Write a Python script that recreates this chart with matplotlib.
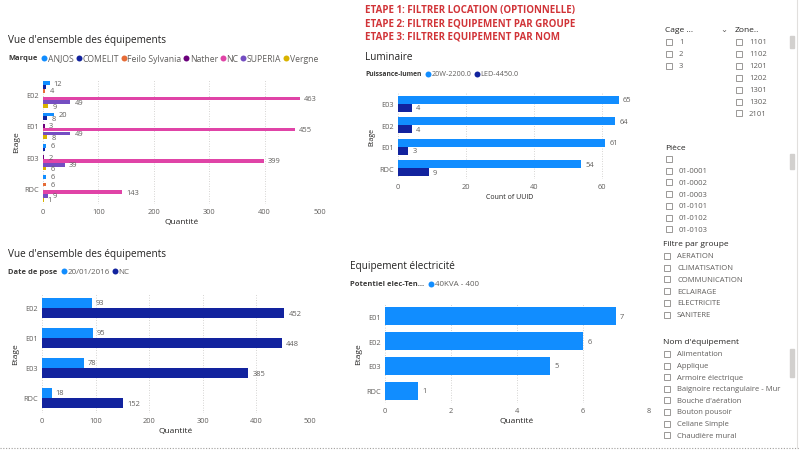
import numpy as np
import matplotlib
matplotlib.use("Agg")
import matplotlib.pyplot as plt
from matplotlib.lines import Line2D
from matplotlib.patches import Rectangle

plt.rcParams['font.family'] = ['Open Sans', 'DejaVu Sans']

# ---- data ----
marques = ['ANJOS', 'COMELIT', 'Feilo Sylvania', 'Nather', 'NC', 'SUPERIA', 'Vergne']
etages_1 = ['E02', 'E01', 'E03', 'RDC']
marque_vals = [
    [12, 20, 6, 6],      # ANJOS
    [6, 8, 4, 0],        # COMELIT
    [4, 0, 0, 6],        # Feilo Sylvania
    [0, 3, 2, 0],        # Nather
    [463, 455, 399, 143],  # NC
    [49, 49, 39, 9],     # SUPERIA
    [9, 8, 6, 1],        # Vergne
]

lum_series = ['20W-2200.0', 'LED-4450.0']
etages_lum = ['E03', 'E02', 'E01', 'RDC']
lum_vals = [[65, 64, 61, 54], [4, 4, 3, 9]]

pose_series = ['20/01/2016', 'NC']
etages_pose = ['E02', 'E01', 'E03', 'RDC']
pose_vals = [[93, 95, 78, 18], [452, 448, 385, 152]]

elec_series = ['40KVA - 400']
etages_elec = ['E01', 'E02', 'E03', 'RDC']
elec_vals = [[7, 6, 5, 1]]

etapes = ['ETAPE 1: FILTRER LOCATION (OPTIONNELLE)',
          'ETAPE 2: FILTRER EQUIPEMENT PAR GROUPE',
          'ETAPE 3: FILTRER EQUIPEMENT PAR NOM']
cage_items = ['1', '2', '3']
zone_items = ['1101', '1102', '1201', '1202', '1301', '1302', '2101']
piece_items = ['', '01-0001', '01-0002', '01-0003', '01-0101', '01-0102', '01-0103']
groupe_items = ['AERATION', 'CLIMATISATION', 'COMMUNICATION', 'ECLAIRAGE', 'ELECTRICITE', 'SANITERE']
nom_items = ['Alimentation', 'Applique', 'Armoire électrique', 'Baignoire rectangulaire - Mur',
             "Bouche d'aération", 'Bouton pousoir', 'Celiane Simple', 'Chaudière mural']

PBI = ['#118DFF', '#12239E', '#E66C37', '#6B007B', '#E044A7', '#744EC2', '#D9B300']
GREY = '#605E5C'
DARK = '#252423'

W, H = 800, 452
fig = plt.figure(figsize=(8, 4.52), dpi=100)
fig.patch.set_facecolor('white')
renderer = fig.canvas.get_renderer()


def add_ax(left, top, right, bottom):
    return fig.add_axes([left / W, 1 - bottom / H, (right - left) / W, (bottom - top) / H])


def ftext(x, y, s, **kw):
    kw.setdefault('va', 'center')
    return fig.text(x / W, 1 - y / H, s, **kw)


def legend_row(x, y, title, names, colors, tsize=5.4, size=5.6):
    t = ftext(x, y, title, weight='bold', size=tsize, color='#3B3A39')
    cx = x + t.get_window_extent(renderer).width + 4
    for name, c in zip(names, colors):
        fig.add_artist(Line2D([(cx + 3) / W], [1 - y / H], marker='o', ms=4.3, mew=0, color=c,
                              transform=fig.transFigure))
        t = ftext(cx + 6.5, y, name, size=size, color=GREY)
        cx += 6.5 + t.get_window_extent(renderer).width + 2


def bar_chart(ax, cats, series, colors, xmax, xticks, group, xlabel):
    n = len(series)
    h = group / n
    y = np.arange(len(cats))
    labels = []
    for j, (vals, c) in enumerate(zip(series, colors)):
        pos = y - group / 2 + h * (j + 0.5)
        ax.barh(pos, vals, height=h * 0.96, color=c)
        for p, v in zip(pos, vals):
            if v:
                labels.append(ax.annotate(str(v), (v, p), xytext=(3, 0), textcoords='offset points',
                                          va='center', size=5.4, color=GREY))
    ax.set_ylim(len(cats) - 0.5, -0.5)
    ax.set_xlim(0, xmax)
    ax.set_xticks(xticks)
    ax.set_yticks(y)
    ax.set_yticklabels(cats)
    for s in ax.spines.values():
        s.set_visible(False)
    ax.tick_params(length=0, labelsize=5.3, labelcolor=GREY, pad=3)
    ax.grid(axis='x', color='#C8C6C4', linestyle=(0, (1, 2)), linewidth=0.6)
    ax.set_axisbelow(True)
    ax.set_xlabel(xlabel, size=6, color=DARK, labelpad=2)
    ax.set_ylabel('Etage', size=6, color=DARK, labelpad=3)
    # hide overlapping data labels, like Power BI does
    kept = []
    for t in labels:
        bb = t.get_window_extent(renderer)
        if any(bb.overlaps(k) for k in kept):
            t.remove()
        else:
            kept.append(bb)


# ---- top-left: marque ----
ftext(8, 41, "Vue d'ensemble des équipements", size=7.2, color=DARK)
legend_row(8, 59, 'Marque', marques, PBI, size=6.2)
ax1 = add_ax(43, 80, 320, 205)
bar_chart(ax1, etages_1, marque_vals, PBI, 500, [0, 100, 200, 300, 400, 500], 0.85, 'Quantité')

# ---- bottom-left: date de pose ----
ftext(8, 254, "Vue d'ensemble des équipements", size=7.2, color=DARK)
legend_row(8, 272, 'Date de pose', pose_series, PBI[:2], size=5.8)
ax3 = add_ax(42, 294, 310, 414)
bar_chart(ax3, etages_pose, pose_vals, PBI[:2], 500, [0, 100, 200, 300, 400, 500], 0.7, 'Quantité')

# ---- top-middle: luminaire ----
for i, s in enumerate(etapes):
    ftext(365, 10 + 13.5 * i, s, size=7, weight='bold', color='#D13438')
ftext(365, 58, 'Luminaire', size=7.2, color=DARK)
legend_row(365, 75, 'Puissance-lumen', lum_series, PBI[:2], tsize=4.9, size=5.2)
ax2 = add_ax(398, 94, 622, 180)
bar_chart(ax2, etages_lum, lum_vals, PBI[:2], 66, [0, 20, 40, 60], 0.74, 'Count of UUID')
ax2.set_ylabel('Etage', size=5, color=DARK, labelpad=3)
ax2.set_xlabel('Count of UUID', size=5, color=DARK, labelpad=2)

# ---- bottom-middle: électricité ----
ftext(350, 267, 'Equipement électricité', size=7.2, color=DARK)
legend_row(350, 285, 'Potentiel elec-Ten...', elec_series, PBI[:1], size=5.8)
ax4 = add_ax(385, 305, 649, 404)
bar_chart(ax4, etages_elec, elec_vals, PBI[:1], 8, [0, 2, 4, 6, 8], 0.76, 'Quantité')


# ---- slicers ----
def checkbox(x, y):
    fig.add_artist(Rectangle((x / W, 1 - (y + 3) / H), 6 / W, 6 / H, fill=False,
                             ec='#8A8886', lw=0.6, transform=fig.transFigure))


def slicer(x, y, title, items, step=12):
    ftext(x, y, title, size=6, color=DARK)
    for i, it in enumerate(items):
        yy = y + 12 + step * i
        checkbox(x + 1, yy)
        ftext(x + 14, yy, it, size=5.5, color=GREY)


def scrollbar(x, y0, y1):
    fig.add_artist(Rectangle((x / W, 1 - y1 / H), 4 / W, (y1 - y0) / H, color='#D2D0CE',
                             transform=fig.transFigure))


slicer(665, 31, 'Cage ...', cage_items)
ftext(720, 30, '⌄', size=6, color=GREY, family='DejaVu Sans')
slicer(735, 31, 'Zone..', zone_items, step=11.9)
scrollbar(790, 37, 49)
slicer(665, 148, 'Pièce', piece_items, step=11.7)
scrollbar(790, 155, 170)
slicer(663, 245, 'Filtre par groupe', groupe_items, step=11.7)
slicer(663, 343, "Nom d'équipement", nom_items, step=11.6)
scrollbar(790, 350, 378)

fig.add_artist(Line2D([0, 1], [1 - 449 / H, 1 - 449 / H], color='#A19F9D', lw=0.8,
                      linestyle=(0, (1, 1.5)), transform=fig.transFigure))
fig.add_artist(Line2D([797 / W, 797 / W], [1 - 449 / H, 1], color='#E1DFDD', lw=0.8,
                      transform=fig.transFigure))

fig.savefig('out.png', dpi=100, facecolor='white')
